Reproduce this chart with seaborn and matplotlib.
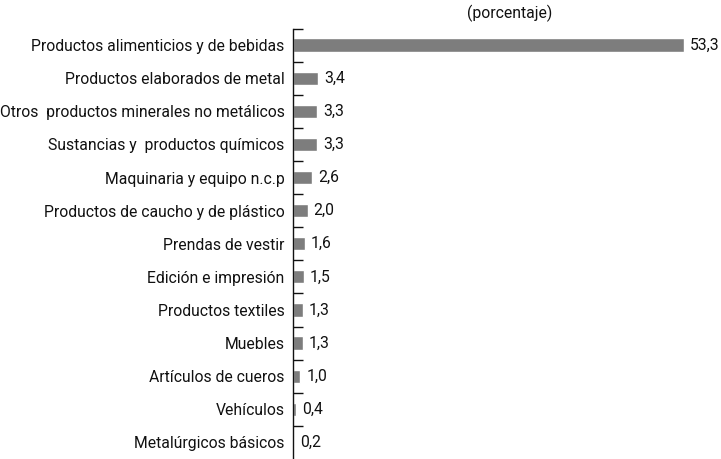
import matplotlib
matplotlib.use("Agg")
import matplotlib.pyplot as plt
import seaborn as sns
import pandas as pd
import numpy as np

categorias = [
    "Productos alimenticios y de bebidas",
    "Productos elaborados de metal",
    "Otros  productos minerales no metálicos",
    "Sustancias y  productos químicos",
    "Maquinaria y equipo n.c.p",
    "Productos de caucho y de plástico",
    "Prendas de vestir",
    "Edición e impresión",
    "Productos textiles",
    "Muebles",
    "Artículos de cueros",
    "Vehículos",
    "Metalúrgicos básicos",
]
valores = [53.3, 3.4, 3.3, 3.3, 2.6, 2.0, 1.6, 1.5, 1.3, 1.3, 1.0, 0.4, 0.2]

df = pd.DataFrame({"cat": categorias, "val": valores})

sns.set_style("white")
plt.rcParams["font.family"] = ["Roboto", "DejaVu Sans"]

fig = plt.figure(figsize=(7.21, 4.59), dpi=100)
ax = fig.add_axes([293 / 721, 0.0, (684 - 293) / 721, 1 - 28.5 / 459])

sns.barplot(data=df, x="val", y="cat", color="#7d7d7d", width=0.4,
            saturation=1, ax=ax, orient="h")

ax.set_xlim(0, 53.3)
ax.set_ylim(12.5, -0.5)
ax.set_xlabel("")
ax.set_ylabel("")
ax.set_xticks([])
for s in ["top", "right", "bottom"]:
    ax.spines[s].set_visible(False)
ax.spines["left"].set_color("#111111")
ax.spines["left"].set_linewidth(1.0)

ax.tick_params(axis="y", which="major", length=0, labelsize=11.3, pad=6,
               labelcolor="#111111")
ax.set_yticks(np.arange(-0.5, 12.5, 1), minor=True)
ax.tick_params(axis="y", which="minor", direction="in", length=7,
               width=1.0, color="#111111", left=True)

for i, v in enumerate(valores):
    ax.text(v + 0.8, i, f"{v:.1f}".replace(".", ","), va="center",
            ha="left", fontsize=11.3, color="#111111", clip_on=False)

fig.text(510 / 721, 1 - 13 / 459, "(porcentaje)", ha="center", va="center",
         fontsize=11.3, color="#111111")

fig.savefig("out.png", dpi=100)
